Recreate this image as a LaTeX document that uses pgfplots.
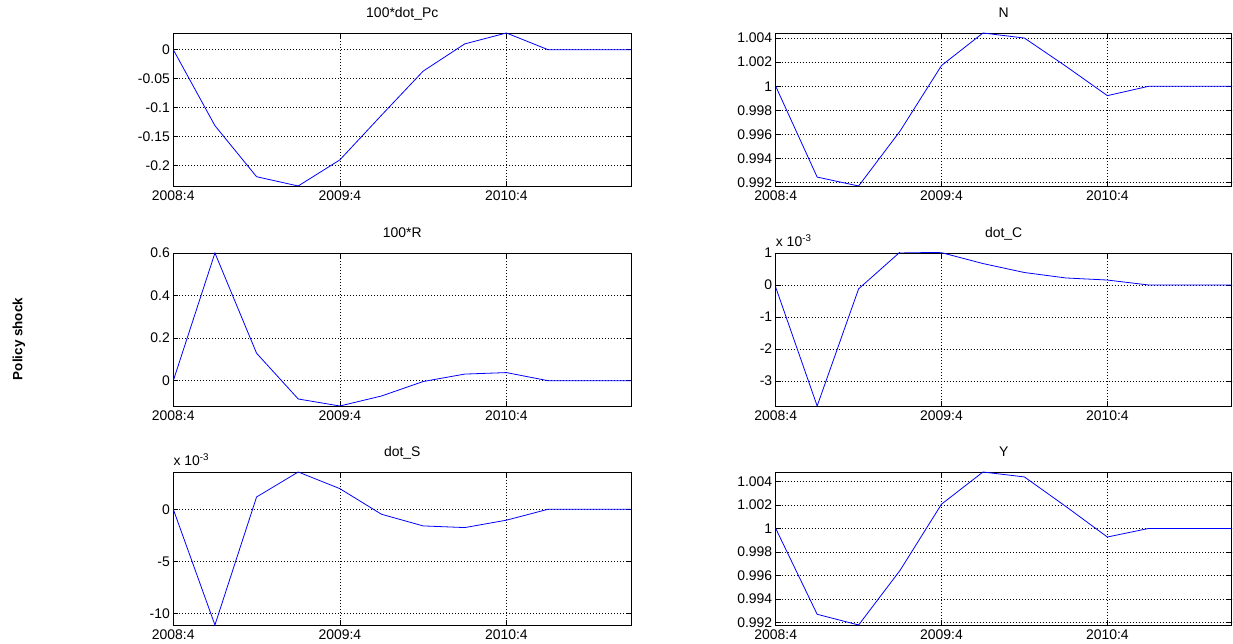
\documentclass[border=0pt]{standalone}
\usepackage{fontspec}
\setmainfont{Liberation Sans}
\usepackage{pgfplots}
\pgfplotsset{compat=1.18}
\pgfplotsset{
  mat/.style={
    scale only axis, height=153bp,
    xmin=0, xmax=11,
    xtick={0,4,8}, xticklabels={2008:4,2009:4,2010:4},
    grid=major,
    major grid style={black, line width=0.6bp, dash pattern=on 0.6bp off 2.4bp},
    axis line style={line width=0.8bp, black},
    tick style={black, line width=0.6bp},
    major tick length=5bp,
    anchor=south west,
    no markers,
    font=\fontsize{14}{16}\selectfont,
    title style={at={(0.5,1)}, anchor=base, yshift=10bp, font=\fontsize{14}{16}\selectfont},
    xticklabel style={yshift=-1bp},
    every axis plot/.append style={blue!85!black, line width=0.8bp},
  },
  matL/.style={mat, width=458bp},
  matR/.style={mat, width=456bp},
}
\begin{document}
\begin{tikzpicture}
\useasboundingbox (0,0) rectangle (1233bp,644bp);

% Row 1 left
\begin{axis}[matL, at={(173.3bp,458bp)}, title={100*dot\_Pc},
  ymin=-0.235, ymax=0.0288,
  ytick={-0.2,-0.15,-0.1,-0.05,0}, yticklabels={-0.2,-0.15,-0.1,-0.05,0}]
\addplot coordinates {(0,0) (1,-0.131) (2,-0.219) (3,-0.235) (4,-0.190) (5,-0.113) (6,-0.037) (7,0.010) (8,0.0288) (9,0) (10,0) (11,0)};
\end{axis}

% Row 1 right
\begin{axis}[matR, at={(775.7bp,458bp)}, title={N},
  ymin=0.99172, ymax=1.00442,
  ytick={0.992,0.994,0.996,0.998,1,1.002,1.004}, yticklabels={0.992,0.994,0.996,0.998,1,1.002,1.004}]
\addplot coordinates {(0,1) (1,0.99246) (2,0.99172) (3,0.99628) (4,1.00172) (5,1.00442) (6,1.004) (7,1.00166) (8,0.99922) (9,1) (10,1) (11,1)};
\end{axis}

% Row 2 left
\begin{axis}[matL, at={(173.3bp,238bp)}, title={100*R},
  ymin=-0.119, ymax=0.6,
  ytick={0,0.2,0.4,0.6}, yticklabels={0,0.2,0.4,0.6}]
\addplot coordinates {(0,0) (1,0.6) (2,0.129) (3,-0.086) (4,-0.119) (5,-0.072) (6,-0.004) (7,0.031) (8,0.038) (9,0) (10,0) (11,0)};
\end{axis}

% Row 2 right
\begin{axis}[matR, name=axC, at={(775.7bp,238bp)}, title={dot\_C},
  ymin=-3.78, ymax=1,
  ytick={-3,-2,-1,0,1}, yticklabels={-3,-2,-1,0,1}]
\addplot coordinates {(0,-0.07) (1,-3.78) (2,-0.12) (3,1.03) (4,1.01) (5,0.67) (6,0.39) (7,0.22) (8,0.155) (9,0) (10,0) (11,0)};
\end{axis}
\node[anchor=base west, inner sep=0pt, font=\fontsize{14}{16}\selectfont] at ([yshift=6.7bp]axC.north west) {x 10\textsuperscript{-3}};

% Row 3 left
\begin{axis}[matL, name=axS, at={(173.3bp,19bp)}, title={dot\_S},
  ymin=-11.12, ymax=3.58,
  ytick={-10,-5,0}, yticklabels={-10,-5,0}]
\addplot coordinates {(0,0) (1,-11.12) (2,1.18) (3,3.58) (4,1.98) (5,-0.48) (6,-1.6) (7,-1.76) (8,-1.05) (9,0) (10,0) (11,0)};
\end{axis}
\node[anchor=base west, inner sep=0pt, font=\fontsize{14}{16}\selectfont] at ([yshift=6.7bp]axS.north west) {x 10\textsuperscript{-3}};

% Row 3 right
\begin{axis}[matR, at={(775.7bp,19bp)}, title={Y},
  ymin=0.9918, ymax=1.00479,
  ytick={0.992,0.994,0.996,0.998,1,1.002,1.004}, yticklabels={0.992,0.994,0.996,0.998,1,1.002,1.004}]
\addplot coordinates {(0,1) (1,0.99271) (2,0.9918) (3,0.99644) (4,1.00206) (5,1.00479) (6,1.00437) (7,1.00186) (8,0.99927) (9,1) (10,1) (11,1)};
\end{axis}

\node[rotate=90, font=\bfseries\fontsize{13.5}{15}\selectfont] at (19bp,305bp) {Policy shock};
\end{tikzpicture}
\end{document}
